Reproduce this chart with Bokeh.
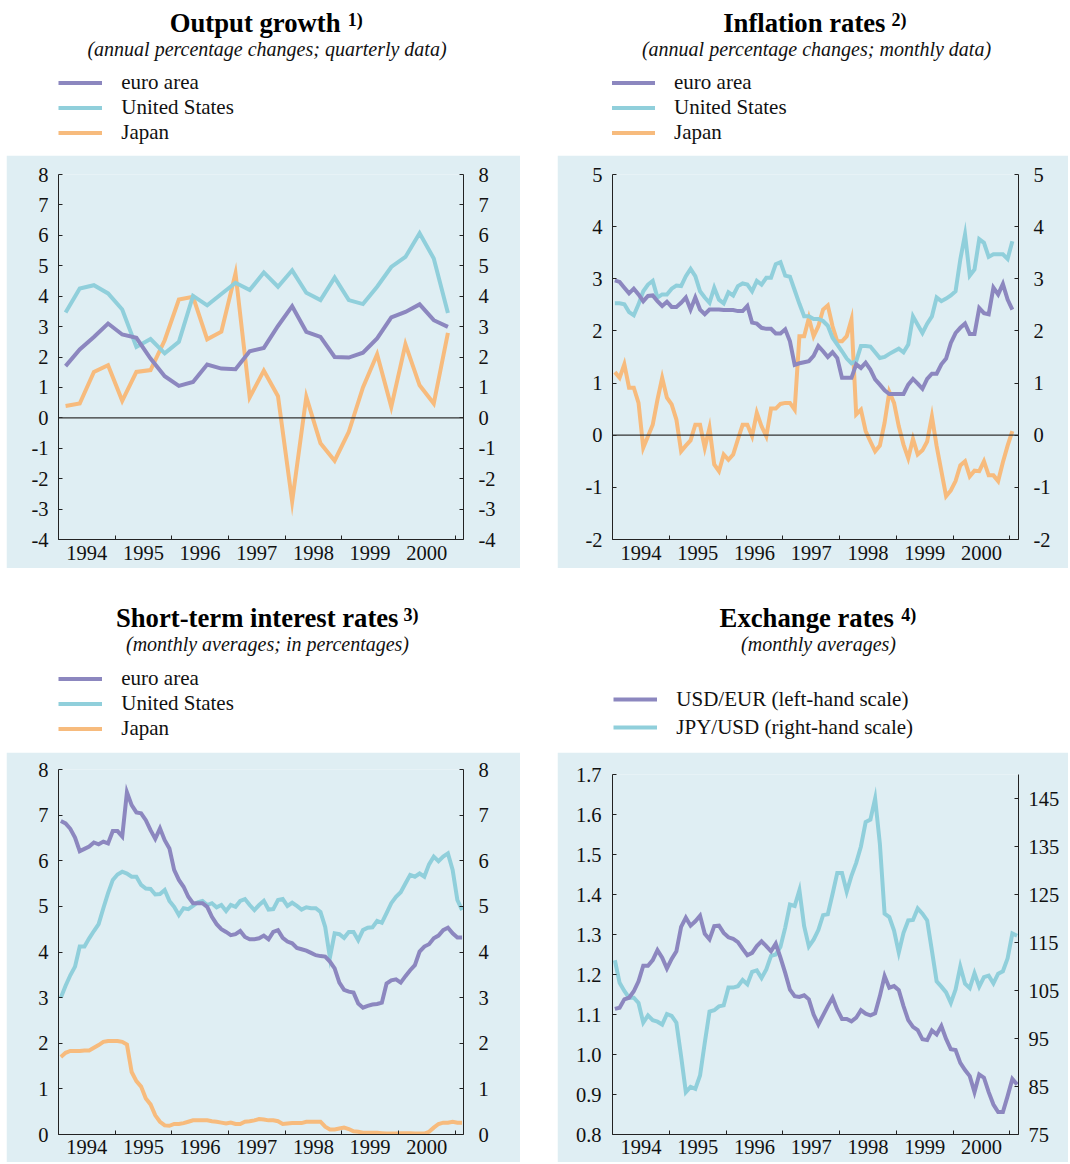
from bokeh.plotting import figure
from bokeh.models import Range1d, LinearAxis, FixedTicker, Span, Label, Legend, LegendItem, Spacer
from bokeh.layouts import column, row
from bokeh.embed import file_html
from bokeh.resources import INLINE

FONT = "Liberation Serif"
BG = "#dfeef3"
C_EA = "#8c87bf"
C_US = "#90cfdb"
C_JP = "#f7bb7d"
AX = "#222222"

# ---------------- data ----------------
YEARS = ["1994", "1995", "1996", "1997", "1998", "1999", "2000"]

# Output growth, quarterly 1994Q1-2000Q4
gdp_ea = [1.70, 2.25, 2.66, 3.10, 2.74, 2.63, 1.95, 1.37, 1.05, 1.18, 1.75, 1.62, 1.60, 2.19,
          2.30, 3.02, 3.67, 2.83, 2.66, 2.00, 1.98, 2.14, 2.61, 3.30, 3.48, 3.73, 3.21, 2.99]
gdp_us = [3.46, 4.25, 4.36, 4.09, 3.56, 2.33, 2.59, 2.12, 2.50, 4.01, 3.70, 4.07, 4.44, 4.20,
          4.78, 4.31, 4.85, 4.11, 3.87, 4.61, 3.87, 3.74, 4.31, 4.96, 5.29, 6.07, 5.24, 3.45]
gdp_jp = [0.39, 0.47, 1.51, 1.73, 0.56, 1.51, 1.57, 2.55, 3.89, 3.98, 2.58, 2.83, 4.75, 0.67,
          1.55, 0.71, -2.75, 0.69, -0.84, -1.41, -0.46, 1.00, 2.09, 0.36, 2.42, 1.07, 0.47, 2.79]

# Inflation, monthly Jan 1994 - Jan 2001
inf_ea = [2.97, 2.94, 2.83, 2.72, 2.81, 2.70, 2.57, 2.67, 2.68, 2.57,
          2.48, 2.56, 2.46, 2.46, 2.54, 2.64, 2.41, 2.64, 2.41, 2.32,
          2.41, 2.41, 2.41, 2.40, 2.40, 2.40, 2.38, 2.38, 2.48, 2.16,
          2.14, 2.06, 2.04, 2.04, 1.95, 1.95, 2.03, 1.80, 1.35, 1.38,
          1.40, 1.42, 1.52, 1.71, 1.61, 1.50, 1.59, 1.48, 1.10, 1.10,
          1.10, 1.36, 1.29, 1.39, 1.26, 1.07, 0.97, 0.86, 0.79, 0.79,
          0.79, 0.79, 0.97, 1.08, 0.99, 0.89, 1.08, 1.18, 1.18, 1.36,
          1.47, 1.77, 1.96, 2.06, 2.14, 1.94, 1.94, 2.44, 2.34, 2.32,
          2.83, 2.70, 2.90, 2.60, 2.41]
inf_us = [2.53, 2.53, 2.51, 2.36, 2.30, 2.51, 2.76, 2.89, 2.96, 2.64,
          2.70, 2.70, 2.81, 2.87, 2.86, 3.05, 3.19, 3.05, 2.76, 2.64,
          2.54, 2.83, 2.60, 2.53, 2.74, 2.68, 2.86, 2.91, 2.89, 2.76,
          2.96, 2.89, 3.02, 3.02, 3.28, 3.32, 3.06, 3.04, 2.78, 2.52,
          2.28, 2.28, 2.23, 2.23, 2.19, 2.10, 1.87, 1.74, 1.61, 1.47,
          1.38, 1.42, 1.71, 1.71, 1.70, 1.59, 1.48, 1.50, 1.56, 1.61,
          1.66, 1.59, 1.74, 2.28, 2.12, 1.96, 2.14, 2.28, 2.64, 2.57,
          2.62, 2.68, 2.76, 3.37, 3.85, 3.06, 3.18, 3.76, 3.69, 3.42,
          3.47, 3.47, 3.47, 3.38, 3.72]
inf_jp = [1.21, 1.10, 1.36, 0.91, 0.91, 0.62, -0.24, -0.02, 0.20, 0.68,
          1.10, 0.72, 0.59, 0.30, -0.31, -0.20, -0.10, 0.20, 0.20, -0.24,
          0.14, -0.56, -0.69, -0.37, -0.47, -0.37, -0.08, 0.20, 0.20, -0.02,
          0.43, 0.17, -0.02, 0.51, 0.51, 0.60, 0.62, 0.62, 0.49, 1.90,
          1.90, 2.25, 1.90, 2.09, 2.41, 2.49, 2.09, 1.80, 1.80, 1.90,
          2.22, 0.40, 0.49, 0.08, -0.12, -0.31, -0.20, 0.24, 0.83, 0.62,
          0.17, -0.18, -0.44, -0.07, -0.37, -0.29, -0.12, 0.36, -0.21, -0.69,
          -1.17, -1.06, -0.88, -0.58, -0.50, -0.79, -0.68, -0.69, -0.50, -0.77,
          -0.77, -0.88, -0.52, -0.20, 0.08]

# Short-term interest rates, monthly Jan 1994 - Feb 2001
ir_ea = [6.87, 6.82, 6.70, 6.51, 6.21, 6.26, 6.31, 6.40, 6.36, 6.42,
         6.38, 6.65, 6.65, 6.53, 7.50, 7.22, 7.06, 7.04, 6.89, 6.67,
         6.48, 6.71, 6.45, 6.27, 5.80, 5.58, 5.43, 5.21, 5.07, 5.07,
         5.07, 4.99, 4.77, 4.61, 4.50, 4.44, 4.37, 4.39, 4.46, 4.33,
         4.28, 4.28, 4.30, 4.36, 4.28, 4.44, 4.48, 4.31, 4.23, 4.19,
         4.09, 4.06, 4.03, 3.98, 3.93, 3.91, 3.90, 3.79, 3.64, 3.33,
         3.17, 3.13, 3.11, 2.87, 2.78, 2.82, 2.85, 2.86, 2.89, 3.31,
         3.38, 3.40, 3.33, 3.47, 3.60, 3.71, 4.01, 4.12, 4.17, 4.30,
         4.36, 4.48, 4.53, 4.41, 4.32, 4.32]
ir_us = [3.00, 3.26, 3.49, 3.68, 4.12, 4.12, 4.30, 4.46, 4.61, 4.96,
         5.29, 5.58, 5.70, 5.76, 5.72, 5.65, 5.65, 5.47, 5.39, 5.38,
         5.26, 5.27, 5.36, 5.12, 4.99, 4.81, 4.96, 4.94, 5.01, 5.09,
         5.12, 5.03, 5.07, 4.98, 5.03, 4.90, 5.03, 4.99, 5.12, 5.16,
         5.03, 4.92, 5.03, 5.12, 4.93, 4.94, 5.14, 5.16, 5.01, 5.08,
         5.01, 4.93, 4.98, 4.96, 4.96, 4.88, 4.55, 3.88, 4.41, 4.39,
         4.31, 4.44, 4.44, 4.26, 4.48, 4.53, 4.54, 4.68, 4.64, 4.85,
         5.07, 5.21, 5.31, 5.50, 5.69, 5.65, 5.72, 5.65, 5.92, 6.09,
         5.99, 6.09, 6.16, 5.80, 5.14, 4.92]
ir_jp = [1.70, 1.79, 1.83, 1.83, 1.83, 1.84, 1.84, 1.90, 1.96, 2.03,
         2.05, 2.05, 2.05, 2.03, 1.97, 1.37, 1.17, 1.05, 0.79, 0.66,
         0.42, 0.28, 0.20, 0.19, 0.23, 0.23, 0.25, 0.28, 0.31, 0.31,
         0.31, 0.31, 0.29, 0.28, 0.26, 0.24, 0.26, 0.23, 0.23, 0.28,
         0.29, 0.31, 0.34, 0.33, 0.31, 0.31, 0.29, 0.23, 0.24, 0.25,
         0.25, 0.25, 0.28, 0.28, 0.28, 0.28, 0.17, 0.11, 0.11, 0.13,
         0.15, 0.12, 0.07, 0.06, 0.04, 0.04, 0.04, 0.04, 0.03, 0.02,
         0.02, 0.02, 0.03, 0.03, 0.03, 0.02, 0.02, 0.02, 0.06, 0.15,
         0.23, 0.26, 0.26, 0.28, 0.26, 0.26]

# Exchange rates, monthly Jan 1994 - Feb 2001
usd_eur = [1.114, 1.117, 1.138, 1.142, 1.158, 1.183, 1.222, 1.222, 1.236, 1.261,
           1.242, 1.215, 1.239, 1.258, 1.319, 1.342, 1.322, 1.333, 1.347, 1.302,
           1.288, 1.321, 1.322, 1.304, 1.293, 1.289, 1.281, 1.264, 1.248, 1.254,
           1.271, 1.283, 1.271, 1.258, 1.277, 1.242, 1.204, 1.162, 1.146, 1.144,
           1.148, 1.138, 1.100, 1.075, 1.098, 1.121, 1.142, 1.112, 1.089, 1.089,
           1.083, 1.092, 1.111, 1.102, 1.098, 1.103, 1.146, 1.196, 1.167, 1.171,
           1.161, 1.121, 1.086, 1.069, 1.061, 1.038, 1.036, 1.060, 1.050, 1.071,
           1.039, 1.013, 1.011, 0.979, 0.961, 0.946, 0.906, 0.950, 0.942, 0.906,
           0.875, 0.856, 0.856, 0.896, 0.939, 0.925]
jpy_usd = [111.3, 106.6, 104.9, 103.5, 103.5, 102.4, 98.3, 99.8, 98.8, 98.5,
           97.9, 100.1, 99.7, 98.3, 91.3, 83.8, 84.9, 84.5, 87.3, 94.1,
           100.6, 100.9, 101.7, 101.9, 105.6, 105.6, 105.9, 107.2, 106.3, 108.9,
           109.2, 107.6, 109.4, 112.2, 112.5, 114.1, 118.1, 122.9, 122.6, 125.9,
           118.4, 114.2, 115.6, 117.6, 120.7, 120.9, 125.1, 129.5, 129.5, 125.6,
           128.9, 131.6, 135.0, 140.1, 140.6, 145.0, 135.6, 121.0, 120.3, 117.5,
           112.9, 117.0, 119.6, 119.7, 122.1, 121.0, 119.6, 113.3, 106.9, 105.8,
           104.6, 102.4, 105.2, 110.0, 106.4, 105.5, 108.6, 105.8, 107.8, 108.1,
           106.5, 108.5, 109.0, 111.7, 116.9, 116.4]

# tick values / labels
gdp_ticks = [-4, -3, -2, -1, 0, 1, 2, 3, 4, 5, 6, 7, 8]
inf_ticks = [-2, -1, 0, 1, 2, 3, 4, 5]
ir_ticks = [0, 1, 2, 3, 4, 5, 6, 7, 8]
fx_left_ticks = [0.8, 0.9, 1.0, 1.1, 1.2, 1.3, 1.4, 1.5, 1.6, 1.7]
fx_left_labels = ["0.8", "0.9", "1.0", "1.1", "1.2", "1.3", "1.4", "1.5", "1.6", "1.7"]
fx_right_ticks = [75, 85, 95, 105, 115, 125, 135, 145]

XSTART, XEND = 1994.0, 2001.15


def monthly(vals):
    return [1994 + (i + 0.5) / 12 for i in range(len(vals))]


def quarterly(vals):
    return [1994 + (i + 0.5) / 4 for i in range(len(vals))]


year_mid = [int(y) + 0.5 for y in YEARS]
year_bounds = [int(YEARS[0]) + i for i in range(len(YEARS) + 1)]


def style_axis(ax, ticks, labels, standoff):
    ax.ticker = FixedTicker(ticks=ticks)
    ax.major_label_overrides = {t: l for t, l in zip(ticks, labels)}
    ax.axis_line_color = AX
    ax.axis_line_width = 1
    ax.major_tick_line_color = AX
    ax.major_tick_in = 4
    ax.major_tick_out = 0
    ax.minor_tick_line_color = None
    ax.major_label_standoff = standoff
    ax.major_label_text_font = FONT
    ax.major_label_text_font_size = "20.5px"
    ax.major_label_text_color = "#111111"


def make_plot(W, H, bl, br, bt, bb, yr, lticks, llabels, rticks=None, rlabels=None, extra=None,
              lstand=10, rstand=15, xstand=6):
    p = figure(width=W, height=H, x_range=Range1d(XSTART, XEND), y_range=Range1d(*yr),
               title=None, output_backend="svg", toolbar_location=None,
               min_border_left=bl, min_border_right=br, min_border_top=bt, min_border_bottom=bb,
               background_fill_color=BG, border_fill_color=BG, outline_line_color=None)
    p.grid.visible = False
    xa = p.xaxis[0]
    xa.ticker = FixedTicker(ticks=year_mid, minor_ticks=year_bounds)
    xa.major_label_overrides = {m: y for m, y in zip(year_mid, YEARS)}
    xa.axis_line_color = AX
    xa.major_tick_line_color = None
    xa.major_tick_in = 0
    xa.major_tick_out = 0
    xa.minor_tick_line_color = AX
    xa.minor_tick_in = 4
    xa.minor_tick_out = 0
    xa.major_label_standoff = xstand
    xa.major_label_text_font = FONT
    xa.major_label_text_font_size = "20.5px"
    xa.major_label_text_color = "#111111"
    style_axis(p.yaxis[0], lticks, llabels, lstand)
    if extra is not None:
        p.extra_y_ranges = {"r": Range1d(*extra)}
        ra = LinearAxis(y_range_name="r")
    else:
        ra = LinearAxis()
    style_axis(ra, rticks if rticks else lticks, rlabels if rlabels else llabels, rstand)
    p.add_layout(ra, "right")
    return p


def make_header(W, H, bl, br, title, sup, t_right, s_left, t_mid, s_mid, subtitle, sub_x, sub_mid,
                items, leg_x, first_center, row_h, spacing):
    # x data units equal column pixels (the header frame is aligned with the plot frame below);
    # vertical positions are given in pixels measured from the top of the header
    h = figure(width=W, height=H, x_range=Range1d(bl, W - br), y_range=Range1d(0, H),
               title=None, output_backend="svg", toolbar_location=None,
               min_border_left=bl, min_border_right=br, min_border_top=0, min_border_bottom=0,
               x_axis_location=None, y_axis_location=None, outline_line_color=None,
               background_fill_color="white", border_fill_color="white")
    h.grid.visible = False
    h.add_layout(Label(x=t_right, y=H - t_mid, y_units="screen", text=title, text_align="right",
                       text_baseline="middle", text_font=FONT, text_font_style="bold",
                       text_font_size="26.7px", text_color="#000000"))
    h.add_layout(Label(x=s_left, y=H - s_mid, y_units="screen", text=sup, text_align="left",
                       text_baseline="middle", text_font=FONT, text_font_style="bold",
                       text_font_size="18px", text_color="#000000"))
    h.add_layout(Label(x=sub_x, y=H - sub_mid, y_units="screen", text=subtitle, text_align="center",
                       text_baseline="middle", text_font=FONT, text_font_style="italic",
                       text_font_size="20px", text_color="#111111"))
    litems = []
    for lab, col in items:
        # legend-only renderer, its points lie outside the visible range
        r = h.line(x=[-9000, -8999], y=[-9000, -8999], line_color=col, line_width=4)
        litems.append(LegendItem(label=lab, renderers=[r]))
    n = len(items)
    total = n * row_h + (n - 1) * spacing
    top = first_center - row_h / 2
    leg = Legend(items=litems, location=(leg_x - bl, H - top - total), orientation="vertical",
                 glyph_width=44, glyph_height=row_h, label_height=row_h, label_standoff=19,
                 spacing=spacing, padding=0, margin=0, border_line_color=None, background_fill_alpha=0,
                 label_text_font=FONT, label_text_font_size="21px", label_text_color="#111111")
    h.add_layout(leg)
    return h


def add_line(p, x, y, color, range_name=None):
    kw = {"y_range_name": range_name} if range_name else {}
    p.line(x, y, line_color=color, line_width=4, line_join="miter", **kw)


three = [("euro area", C_EA), ("United States", C_US), ("Japan", C_JP)]

LW, RW = 514, 511
LBL, LBR = 52, 57
RBL, RBR = 55, 50

# --- top-left: output growth
h1 = make_header(LW, 155, LBL, LBR, "Output growth", "1)", 334, 341.3, 22, 19,
                 "(annual percentage changes; quarterly data)", 260.5, 48.3, three, 52.3, 84.3, 25, -1)
p1 = make_plot(LW, 413, LBL, LBR, 19, 29, (-4, 8), gdp_ticks, [str(t) for t in gdp_ticks])
p1.add_layout(Span(location=0, dimension="width", line_color="#333333", line_width=1.2))
add_line(p1, quarterly(gdp_jp), gdp_jp, C_JP)
add_line(p1, quarterly(gdp_us), gdp_us, C_US)
add_line(p1, quarterly(gdp_ea), gdp_ea, C_EA)

# --- top-right: inflation
h2 = make_header(RW, 155, RBL, RBR, "Inflation rates", "2)", 328, 334, 22, 19,
                 "(annual percentage changes; monthly data)", 259, 48.3, three, 54, 84.3, 25, -1)
p2 = make_plot(RW, 413, RBL, RBR, 19, 29, (-2, 5), inf_ticks, [str(t) for t in inf_ticks])
p2.add_layout(Span(location=0, dimension="width", line_color="#333333", line_width=1.2))
add_line(p2, monthly(inf_jp), inf_jp, C_JP)
add_line(p2, monthly(inf_us), inf_us, C_US)
add_line(p2, monthly(inf_ea), inf_ea, C_EA)

# --- bottom-left: interest rates
h3 = make_header(LW, 184, LBL, LBR, "Short-term interest rates", "3)", 392, 397, 49.7, 46,
                 "(monthly averages; in percentages)", 261, 75.3, three, 52.3, 112.3, 25, -1)
p3 = make_plot(LW, 410, LBL, LBR, 17, 28, (0, 8), ir_ticks, [str(t) for t in ir_ticks], xstand=5)
add_line(p3, monthly(ir_jp), ir_jp, C_JP)
add_line(p3, monthly(ir_us), ir_us, C_US)
add_line(p3, monthly(ir_ea), ir_ea, C_EA)

# --- bottom-right: exchange rates
h4 = make_header(RW, 184, RBL, RBR, "Exchange rates", "4)", 336.3, 343.7, 49.7, 46,
                 "(monthly averages)", 261, 75.3,
                 [("USD/EUR (left-hand scale)", C_EA), ("JPY/USD (right-hand scale)", C_US)],
                 56.3, 131.3, 28, 0)
p4 = make_plot(RW, 410, RBL, RBR, 22, 28, (0.8, 1.7), fx_left_ticks, fx_left_labels,
               fx_right_ticks, [str(t) for t in fx_right_ticks], extra=(75, 150),
               lstand=11, rstand=10, xstand=5)
add_line(p4, monthly(jpy_usd), jpy_usd, C_US, "r")
add_line(p4, monthly(usd_eur), usd_eur, C_EA)

left = column(h1, p1, h3, p3)
right = column(h2, p2, h4, p4)
layout = row(Spacer(width=6, height=10), left, Spacer(width=37, height=10), right)

open("out.html", "w").write(file_html(layout, INLINE))
